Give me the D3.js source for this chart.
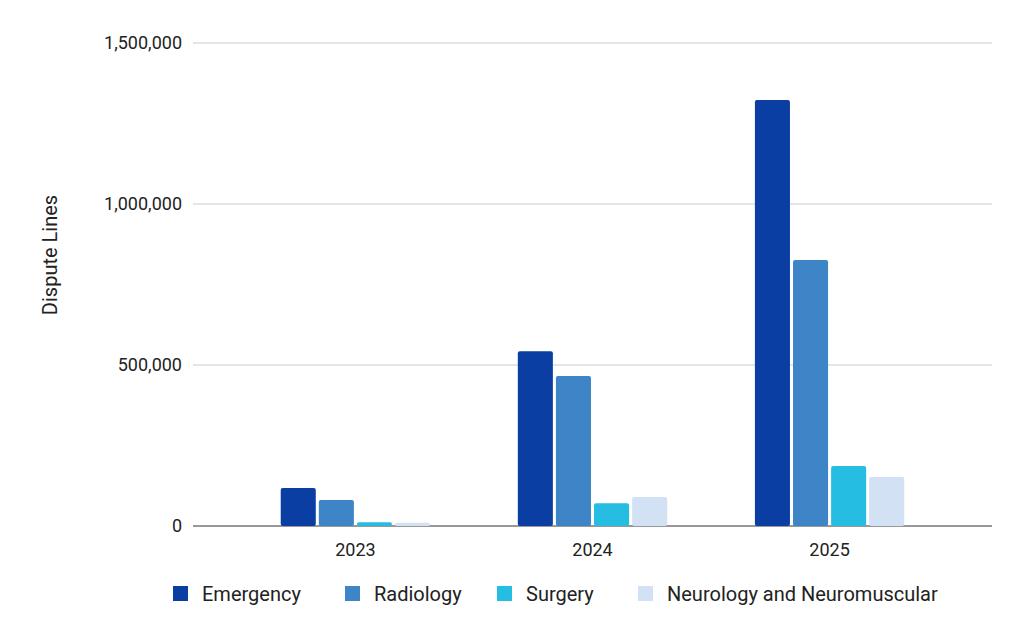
<!DOCTYPE html><html><head><meta charset="utf-8"><script src="https://cdn.jsdelivr.net/npm/d3@7"></script>
<style>body{margin:0;background:#fff}text{font-family:Roboto,Arial,sans-serif}</style></head><body><svg id="c" width="1024" height="630"></svg><script>
const years=["2023","2024","2025"];
const series=["Emergency","Radiology","Surgery","Neurology and Neuromuscular"];
const colors=["#0a3ea3","#3d85c6","#26bde3","#d2e2f4"];
const values=[[118000,81000,12000,10000],[543000,466000,71000,90000],[1323000,826000,186000,152000]];
const yTicks=[0,500000,1000000,1500000];
const svg=d3.select("#c");
const y=d3.scaleLinear().domain([0,1500000]).range([526,43]);
const x0=d3.scaleBand().domain(years).range([193,992]).padding(0.37);
const x1=d3.scaleBand().domain(series).range([0,x0.bandwidth()]).paddingInner(0.08);
svg.selectAll(".g").data(yTicks).join("line").attr("x1",193).attr("x2",992).attr("y1",d=>y(d)).attr("y2",d=>y(d)).attr("stroke",d=>d?"#cccccc":"#333").attr("stroke-width",1);
svg.selectAll(".yt").data(yTicks).join("text").attr("x",182).attr("y",d=>y(d)+6).attr("text-anchor","end").attr("font-size",18).attr("fill","#222").text(d=>d3.format(",")(d));
years.forEach((yr,i)=>{
 svg.append("g").selectAll("rect").data(values[i]).join("rect").attr("x",(d,j)=>x0(yr)+x1(series[j])).attr("width",x1.bandwidth()).attr("y",d=>y(d)).attr("height",d=>526-y(d)).attr("fill",(d,j)=>colors[j]).attr("rx",2);
 svg.append("text").attr("x",x0(yr)+x0.bandwidth()/2).attr("y",556).attr("text-anchor","middle").attr("font-size",18).attr("fill","#222").text(yr);
});
svg.append("text").attr("transform","translate(57,255) rotate(-90)").attr("text-anchor","middle").attr("font-size",20).attr("fill","#222").text("Dispute Lines");
const lx=[173,345,497,638];
series.forEach((s,j)=>{
 svg.append("rect").attr("x",lx[j]).attr("y",586).attr("width",15).attr("height",15).attr("fill",colors[j]);
 svg.append("text").attr("x",lx[j]+29).attr("y",601).attr("font-size",20).attr("fill","#222").text(s);
});
</script></body></html>
